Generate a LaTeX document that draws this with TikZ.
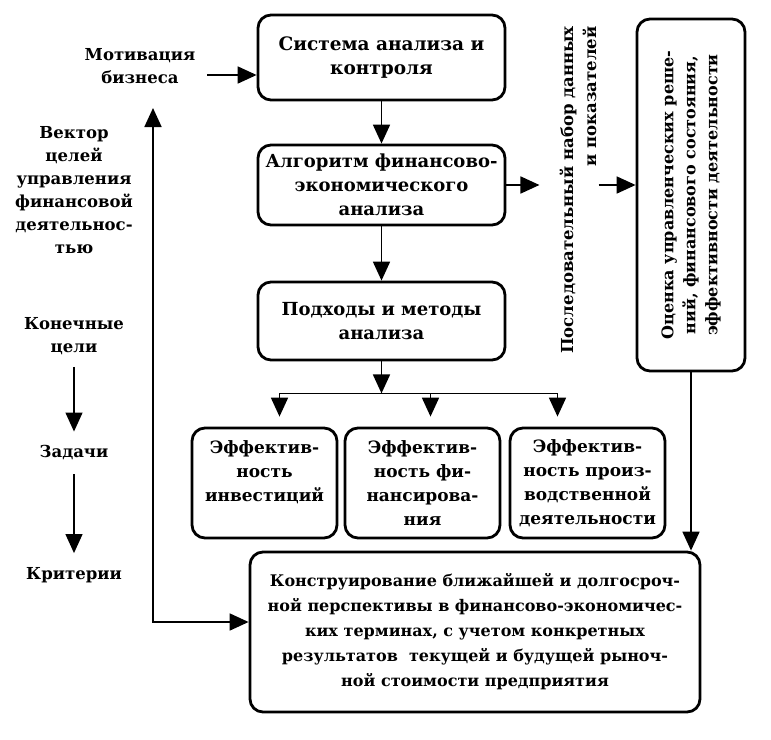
\documentclass[tikz,border=0pt]{standalone}
\usepackage{fontspec}
\setmainfont{DejaVu Serif}
\usetikzlibrary{arrows.meta,positioning}
\tikzset{
  blok/.style={draw, line width=2.8pt, rounded corners=13pt, align=center,
    inner sep=2pt, font=\bfseries\fontsize{17}{24}\selectfont},
  podp/.style={align=center, inner sep=2pt, font=\bfseries\fontsize{16.5}{23}\selectfont},
  strel/.style={-{Triangle[length=19pt,width=17pt]}, line width=1.8pt},
  dvstrel/.style={{Triangle[length=19pt,width=17pt]}-{Triangle[length=19pt,width=17pt]}, line width=1.8pt}
}
\begin{document}
\begin{tikzpicture}[x=1pt, y=-1pt]
        \useasboundingbox (0,0) rectangle (771,739);
        % boxes
        \node[blok, minimum width=247pt, minimum height=85pt,
              font=\bfseries\fontsize{18.5}{24}\selectfont] (sistema) at (381.5,57.5)
              {Система анализа и\\контроля};
        \node[blok, minimum width=247pt, minimum height=80pt,
              font=\bfseries\fontsize{18}{24}\selectfont] (algoritm) at (381.5,185)
              {Алгоритм финансово-\\экономического\\анализа};
        \node[blok, minimum width=247pt, minimum height=78pt,
              font=\bfseries\fontsize{18}{24}\selectfont] (podhody) at (381.5,321)
              {Подходы и методы\\анализа};
        \node[blok, minimum width=145pt, minimum height=110pt] (invest) at (264.5,483)
              {Эффектив-\\ность\\инвестиций\\\mbox{}};
        \node[blok, minimum width=155pt, minimum height=110pt] (finans) at (422.5,483)
              {Эффектив-\\ность фи-\\нансирова-\\ния};
        \node[blok, minimum width=155pt, minimum height=110pt] (proizv) at (587.5,483)
              {Эффектив-\\ность произ-\\водственной\\деятельности};
        \node[blok, minimum width=450pt, minimum height=160pt,
              font=\bfseries\fontsize{16}{25}\selectfont] (itog) at (475,632)
              {Конструирование ближайшей и долгосроч-\\ной перспективы в финансово-экономичес-\\ких терминах, с учетом конкретных\\результатов \ текущей и будущей рыноч-\\ной стоимости предприятия};
        \node[blok, rotate=90, minimum width=352pt, minimum height=108pt,
              font=\bfseries\fontsize{16}{22}\selectfont] (ocenka) at (691,195)
              {Оценка управленческих реше-\\ний, финансового состояния,\\эффективности деятельности};
        \node[podp, rotate=90, align=right] (nabor) at (578,190)
              {Последовательный набор данных\\и показателей};
        % left column
        \node[podp] (motiv) at (140,66) {Мотивация\\бизнеса};
        \node[podp] (vektor) at (74,190) {Вектор\\целей\\управления\\финансовой\\деятельнос-\\тью};
        \node[podp] (konech) at (74,336) {Конечные\\цели};
        \node[podp] (zadachi) at (74,453) {Задачи};
        \node[podp] (kriterii) at (74,575) {Критерии};
        \coordinate (vverh) at (153,108);
        % connectors
        \draw[strel, shorten <=10pt] ([yshift=-9pt]motiv.east) -- ([yshift=-9pt]motiv.east -| sistema.west);
        \draw[strel] (sistema) -- (algoritm);
        \draw[strel] (algoritm) -- (podhody);
        \draw[strel, shorten >=18pt] (algoritm.east) -- (algoritm.east -| nabor.north);
        \draw[strel] (nabor.south |- algoritm.east) -- (ocenka.north |- algoritm.east);
        \draw[strel] (ocenka.west) -- (ocenka.west |- itog.north);
        \coordinate (razv) at ([yshift=-32pt]podhody.south);
        \draw[strel] (podhody.south) -- (razv);
        \draw[line width=1.8pt] ([xshift=15pt]razv -| invest.north) -- ([xshift=-30pt]razv -| proizv.north);
        \foreach \n/\dx in {invest/15, finans/8, proizv/-30}
            \draw[strel] ([xshift=\dx pt]razv -| \n.north) -- ([xshift=\dx pt, yshift=10pt]\n.north);
        \draw[dvstrel] (vverh) |- ([yshift=10pt]itog.west);
        \draw[strel, line width=1.3pt, shorten <=10pt, shorten >=12pt] (konech) -- (zadachi);
        \draw[strel, line width=1.3pt, shorten <=12pt, shorten >=12pt] (zadachi) -- (kriterii);
\end{tikzpicture}
\end{document}
